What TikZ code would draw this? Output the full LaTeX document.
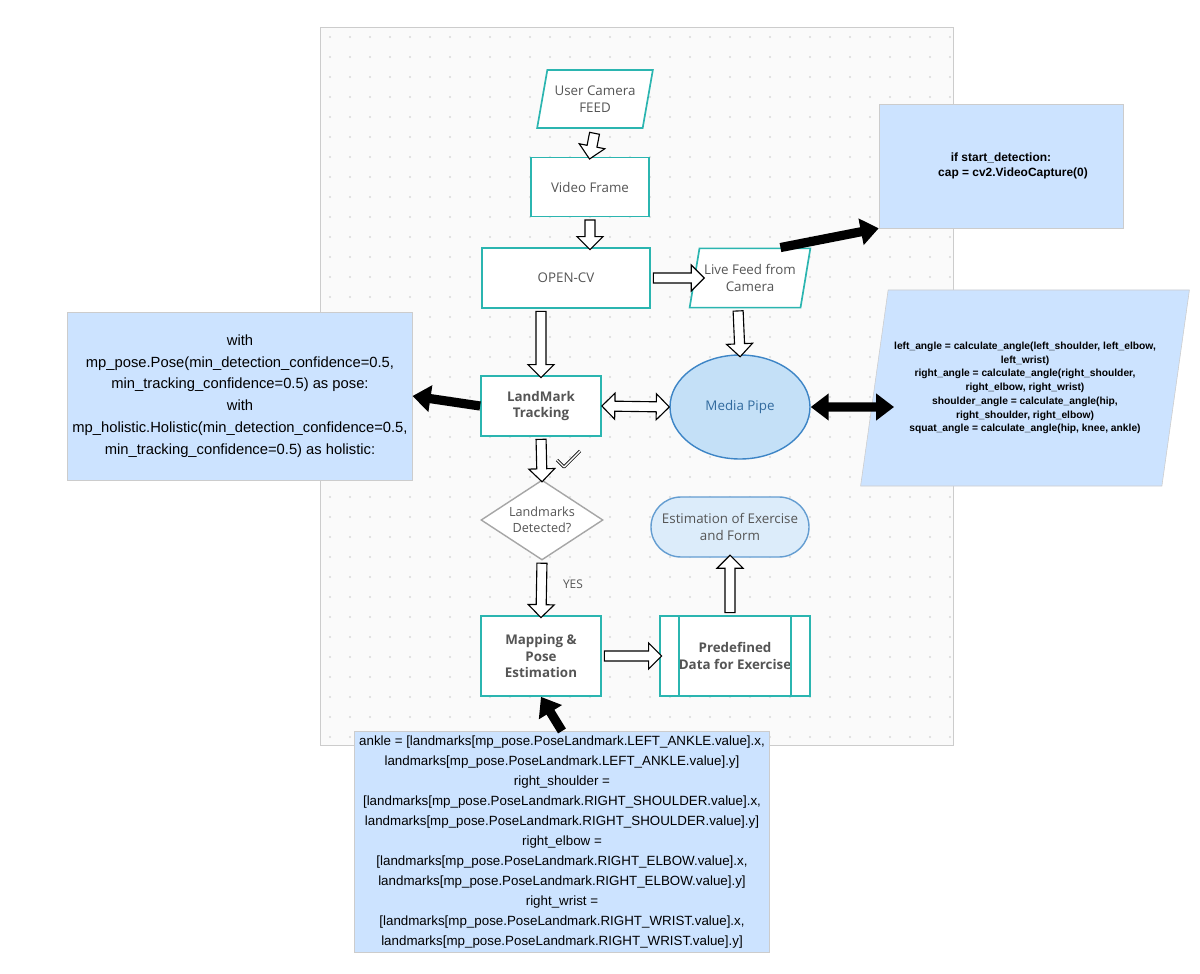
\documentclass[tikz,border=0pt]{standalone}
\usepackage{fontspec}
\setmainfont{Liberation Sans}
\newfontfamily\flowfont{Open Sans}
\usetikzlibrary{shapes.geometric,shapes.arrows,calc,arrows.meta}
\definecolor{teal1}{HTML}{2BB5B0}
\definecolor{code}{HTML}{CCE3FF}
\definecolor{pipe}{HTML}{C4E0F7}
\definecolor{pipeline}{HTML}{3D85C6}
\definecolor{txt}{HTML}{555555}
\tikzset{
  step box/.style={draw=teal1, line width=1.2pt, fill=white, align=center, font=\flowfont\fontsize{9.5}{12}\selectfont, text=txt},
  io box/.style={step box, trapezium, trapezium left angle=75, trapezium right angle=105, trapezium stretches=true},
  code box/.style={fill=code, draw=gray!40, align=center, text=black},
  solid arrow/.style={line width=2.3mm, -{Triangle[length=4.5mm,width=6.5mm]}},
  both arrow/.style={line width=2.3mm, {Triangle[length=4.5mm,width=6.5mm]}-{Triangle[length=4.5mm,width=6.5mm]}}
}
% hollow block arrow from #1 to #2, #3 = shape
\newcommand{\blockarrow}[3][single arrow]{%
  \path let \p1=($(#3)-(#2)$), \n1={veclen(\x1,\y1)}, \n2={atan2(\y1,\x1)} in
    node[#1, draw, fill=white, line width=0.8pt, minimum width=6.5mm, single arrow head extend=1.5mm,
      double arrow head extend=1.5mm, minimum height=\n1, inner sep=0.8mm, rotate=\n2, anchor=center]
      at ($(#2)!0.5!(#3)$) {};}
\begin{document}
\begin{tikzpicture}[x=0.25mm,y=-0.25mm]
\useasboundingbox (0,0) rectangle (1200,974);
\fill[white] (0,0) rectangle (1200,974);

% Canvas
\draw[gray!40, fill=gray!4] (320,27) rectangle (953,745);
\foreach \i in {0,...,31} \foreach \j in {0,...,35}
  \fill[gray!30] (330+\i*20,37+\j*20) circle (0.8pt);

% Flow nodes
\node[io box, minimum width=29mm, minimum height=14.5mm] (feed) at (595,99) {User Camera\\FEED};
\node[step box, minimum width=29.5mm, minimum height=14.8mm] (frame) at (590,187) {Video Frame};
\node[step box, minimum width=42mm, minimum height=15mm] (opencv) at (566,278) {OPEN-CV};
\node[io box, minimum width=30mm, minimum height=14.8mm] (live) at (750,278) {Live Feed from\\Camera};
\node[step box, minimum width=30mm, minimum height=15mm, font=\flowfont\bfseries\fontsize{9.5}{12}\selectfont] (track) at (541,406) {LandMark\\Tracking};
\node[ellipse, draw=pipeline, line width=1pt, fill=pipe, minimum width=35mm, minimum height=26mm,
  text=pipeline!80!black, font=\flowfont\fontsize{9.5}{12}\selectfont] (pipe) at (740,407) {Media Pipe};
\node[diamond, draw=gray!70, line width=1pt, fill=white, aspect=1.5, minimum width=30.5mm, minimum height=20mm,
  inner sep=0pt, align=center, text=txt, font=\flowfont\fontsize{9}{11}\selectfont] (detect) at (542,520) {Landmarks\\Detected?};
\node[step box, minimum width=30mm, minimum height=20mm, font=\flowfont\bfseries\fontsize{9.5}{12}\selectfont] (mapping) at (541,656) {Mapping \&\\Pose\\Estimation};
\node[step box, minimum width=37.5mm, minimum height=20mm, font=\flowfont\bfseries\fontsize{9.5}{12}\selectfont] (predef) at (735,656) {Predefined\\Data for Exercise};
\draw[teal1, line width=1.2pt] ([xshift=5mm]predef.north west) -- ([xshift=5mm]predef.south west)
  ([xshift=-5mm]predef.north east) -- ([xshift=-5mm]predef.south east);
\node[rounded corners=7.5mm, draw=pipeline!80, line width=1pt, fill=pipe!60, minimum width=39.5mm, minimum height=15mm,
  align=center, text=txt, font=\flowfont\fontsize{9.5}{12}\selectfont] (estim) at (730,527) {Estimation of Exercise\\and Form};
\node[text=txt, font=\flowfont\fontsize{8.5}{10}\selectfont] (yes) at (573,584) {YES};

% Code boxes
\node[code box, minimum width=61mm, minimum height=31mm, font=\bfseries\fontsize{8.5}{11}\selectfont] (capture) at (1001,166)
  {if start\_detection:\\\hspace*{6mm}cap = cv2.VideoCapture(0)};
\node[code box, minimum width=81mm, minimum height=42mm, font=\fontsize{10.5}{15.5}\selectfont] (posebox) at (240,396)
  {with\\mp\_pose.Pose(min\_detection\_confidence=0.5,\\min\_tracking\_confidence=0.5) as pose:\\with\\mp\_holistic.Holistic(min\_detection\_confidence=0.5,\\min\_tracking\_confidence=0.5) as holistic:};
\node[code box, trapezium, trapezium left angle=75, trapezium right angle=105, trapezium stretches=true,
  minimum width=82.5mm, minimum height=49mm, font=\bfseries\fontsize{7.3}{9.8}\selectfont] (angles) at (1025,388)
  {left\_angle = calculate\_angle(left\_shoulder, left\_elbow,\\left\_wrist)\\
   right\_angle = calculate\_angle(right\_shoulder,\\right\_elbow, right\_wrist)\\
   shoulder\_angle = calculate\_angle(hip,\\right\_shoulder, right\_elbow)\\
   squat\_angle = calculate\_angle(hip, knee, ankle)};
\node[code box, minimum width=95.5mm, minimum height=50mm, font=\fontsize{9.5}{14.2}\selectfont] (landmarks) at (562,842)
  {ankle = [landmarks[mp\_pose.PoseLandmark.LEFT\_ANKLE.value].x,\\landmarks[mp\_pose.PoseLandmark.LEFT\_ANKLE.value].y]\\
   right\_shoulder =\\{}[landmarks[mp\_pose.PoseLandmark.RIGHT\_SHOULDER.value].x,\\landmarks[mp\_pose.PoseLandmark.RIGHT\_SHOULDER.value].y]\\
   right\_elbow =\\{}[landmarks[mp\_pose.PoseLandmark.RIGHT\_ELBOW.value].x,\\landmarks[mp\_pose.PoseLandmark.RIGHT\_ELBOW.value].y]\\
   right\_wrist =\\{}[landmarks[mp\_pose.PoseLandmark.RIGHT\_WRIST.value].x,\\landmarks[mp\_pose.PoseLandmark.RIGHT\_WRIST.value].y]};

% Hollow arrows
\blockarrow{$(feed.south)+(0,2)$}{frame.north}
\blockarrow{frame.south}{$(opencv.north)+(24,0)$}
\blockarrow{opencv.east}{$(live.west)+(8,0)$}
\blockarrow{$(opencv.south)+(-25,0)$}{track.north}
\blockarrow{$(live.south)+(-12,0)$}{pipe.north}
\blockarrow[double arrow]{track.east}{pipe.west}
\blockarrow{track.south}{detect.north}
\blockarrow{detect.south}{mapping.north}
\blockarrow{mapping.east}{predef.west}
\blockarrow{$(predef.north)+(-5,0)$}{estim.south}
% check mark
\draw[line width=2.2pt, line join=round] (557,460) -- (564,467) -- (580,451);
\draw[white, line width=1pt, line join=round] (557,460) -- (564,467) -- (580,451);

% Solid arrows
\draw[solid arrow] (live.north east) -- (capture.south west);
\draw[solid arrow] (track.west) -- (posebox.east);
\draw[both arrow] (pipe.east) -- ($(angles.west)+(20,19)$);
\draw[solid arrow] (landmarks.north) -- (mapping.south);
\end{tikzpicture}
\end{document}
